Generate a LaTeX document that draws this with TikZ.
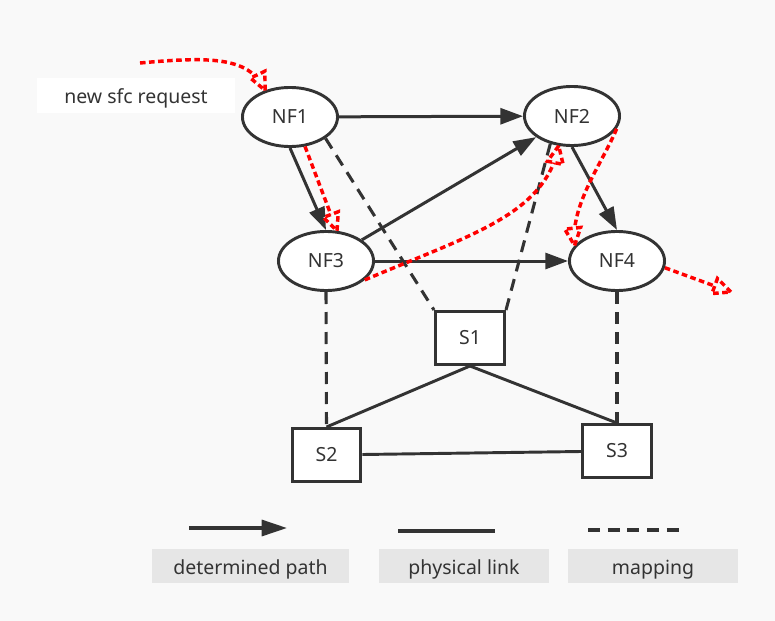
\documentclass[tikz,border=0pt]{standalone}
\usepackage{fontspec}
\setmainfont{Noto Sans}
\usetikzlibrary{shapes.geometric,arrows.meta,decorations.markings}
\definecolor{ink}{RGB}{51,51,51}
\definecolor{bg}{RGB}{249,249,249}
\definecolor{labgray}{RGB}{230,230,230}
\begin{document}
\begin{tikzpicture}[x=0.75pt,y=-0.75pt,
  font=\fontsize{14.6}{17}\selectfont, text=ink,
  nf/.style={ellipse, draw=ink, line width=2.2pt, fill=white, minimum width=71.3pt, minimum height=44.3pt, inner sep=0pt},
  swbox/.style={rectangle, draw=ink, line width=2.2pt, fill=white, minimum width=51.5pt, minimum height=39.8pt, inner sep=0pt},
  detpath/.style={draw=ink, line width=2.25pt, -{Triangle[length=17pt,width=12pt]}},
  phys/.style={draw=ink, line width=2.2pt},
  mapline/.style={draw=ink, line width=2.3pt, dash pattern=on 9pt off 6pt},
  flow/.style={draw=red, line width=2.6pt, dash pattern=on 4.2pt off 2.6pt,
    postaction={decorate},
    decoration={markings, mark=at position -0.3pt with {\draw[red, line width=2.6pt, dash pattern=on 4.2pt off 2.6pt, fill=bg] (0.3pt,0pt) -- (-12.7pt,6pt) -- (-12.7pt,-6pt) -- cycle;}}},
  legbox/.style={rectangle, fill=labgray, minimum height=25.5pt, inner sep=0pt, text height=13pt, text depth=0.5pt}
]
\fill[bg] (0,0) rectangle (775,621);
\useasboundingbox (0,0) rectangle (775,621);

% label
\node[fill=white, minimum width=148.5pt, minimum height=26.25pt, inner sep=0pt, text height=13pt, text depth=0.5pt] (req) at (136,95.5) {new sfc request};

% nodes
\node[nf] (nf1) at (290,117) {NF1};
\node[nf] (nf2) at (572,116) {NF2};
\node[nf] (nf3) at (326,261) {NF3};
\node[nf] (nf4) at (617,261) {NF4};
\node[swbox, minimum width=51.8pt] (s1) at (470,338) {S1};
\node[swbox] (s2) at (326.5,455) {S2};
\node[swbox] (s3) at (617,451) {S3};

% determined paths
\draw[detpath] (nf1) -- (nf2);
\draw[detpath] (nf1.south) -- (nf3.north);
\draw[detpath] (nf3) -- (nf2);
\draw[detpath] (nf3) -- (nf4);
\draw[detpath] (nf2.south) -- (nf4.north);

% mapping
\draw[mapline] (nf1.-31) -- (s1.north west);
\draw[mapline] (nf2.-128) -- (s1.north east);
\draw[mapline] (nf3.south) -- (s2.north);
\draw[mapline] (nf4.south) -- (s3.north);

% physical links
\draw[phys] (s1.south) -- (s2.north);
\draw[phys] (s1.south) -- (s3.north);
\draw[phys] (s2) -- (s3);

% red flows
\coordinate (r0) at (140,63);
\coordinate (r5) at (731,292);
\draw[flow] (r0) .. controls (215,56) and (250,58) .. (nf1.133);
\draw[flow] (nf1.-63) -- (nf3.70);
\draw[flow] (nf3.-26) .. controls (470,235) and (545,215) .. (nf2.246);
\draw[flow] (nf2.-16) .. controls (603,162) and (570,205) .. (nf4.160);
\draw[flow] (nf4.-8) -- (r5);

% legend
\coordinate (la1) at (189,528);
\coordinate (la2) at (287,528);
\coordinate (lp1) at (398,531);
\coordinate (lp2) at (495,531);
\coordinate (lm1) at (588,530);
\coordinate (lm2) at (679,530);
\draw[draw=ink, line width=2.4pt, -{Triangle[length=19pt,width=12pt]}] (la1) -- (la2);
\draw[phys, line width=2.4pt] (lp1) -- (lp2);
\draw[draw=ink, line width=2.5pt, dash pattern=on 9pt off 5.8pt] (lm1) -- (lm2);
\node[legbox, minimum width=147.75pt] (l1) at (250.5,566) {determined path};
\node[legbox, minimum width=127.5pt] (l2) at (464,566) {physical link};
\node[legbox, minimum width=127.5pt] (l3) at (653,566) {mapping};
\end{tikzpicture}
\end{document}
